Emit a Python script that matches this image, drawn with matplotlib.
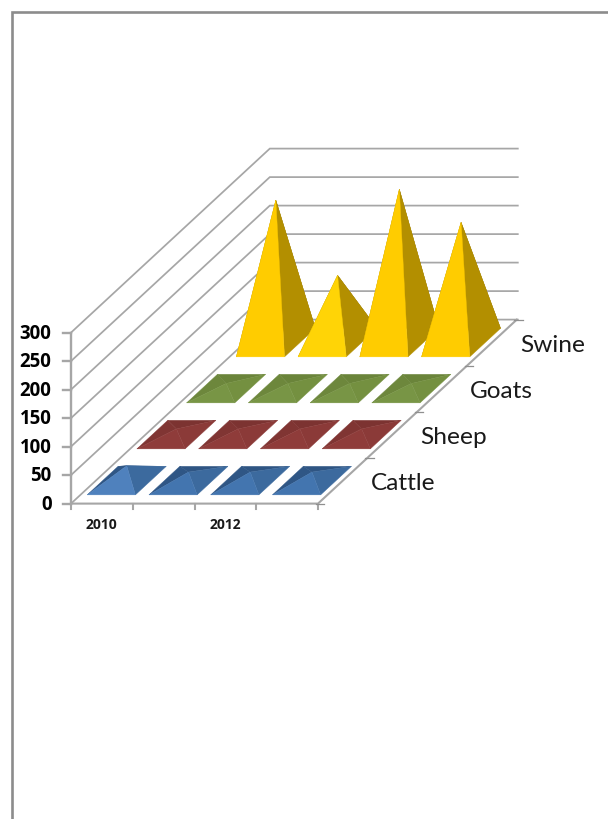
import matplotlib
matplotlib.use("Agg")
import matplotlib.pyplot as plt
from matplotlib.patches import Polygon

# Head counts per series and year
years = ["2010", "2011", "2012", "2013"]
series = ["Cattle", "Sheep", "Goats", "Swine"]
cattle = [26, 15, 15, 15]
sheep = [10, 10, 10, 10]
goats = [9, 9, 9, 9]
swine = [250, 118, 269, 211]
value_ticks = [0, 50, 100, 150, 200, 250, 300]

series_values = [cattle, sheep, goats, swine]

# Face colours per series: front, right, back, left
face_colors = {
    "Cattle": ("#4375AF", "#3C6A9E", "#2F5583", "#2F5685"),
    "Sheep": ("#8F3C3A", "#8B3A38", "#7C3331", "#803533"),
    "Goats": ("#789545", "#749040", "#6A843A", "#6D873C"),
    "Swine": ("#FFCC00", "#B38F00", "#8F7200", "#B38F00"),
}
# The lit pyramids in each row have their own front shade
front_overrides = {("Cattle", 0): "#4F81BD", ("Swine", 1): "#FFD406"}

GRID = "#A6A6A6"
WIDTH, HEIGHT = 608, 819

# Oblique projection of (category, series depth, value) onto the page
ORIGIN_X, ORIGIN_Y = 71.0, 503.6
CAT_DX = 61.75
DEPTH_DX, DEPTH_DY = 49.7, -46.0
VALUE_DY = -171.0 / 300.0
BAR_WIDTH = 0.78
BAR_DEPTH = 0.62


def project(cat, depth, value=0.0):
    return (
        ORIGIN_X + cat * CAT_DX + depth * DEPTH_DX,
        ORIGIN_Y + depth * DEPTH_DY + value * VALUE_DY,
    )


fig = plt.figure(figsize=(WIDTH / 100, HEIGHT / 100), dpi=100)
ax = fig.add_axes([0, 0, 1, 1])
ax.set_xlim(0, WIDTH)
ax.set_ylim(HEIGHT, 0)
ax.axis("off")

# Outer page frame, open on the right and bottom
ax.plot([11.5, 11.5, WIDTH], [HEIGHT, 11.5, 11.5], color="#8C8C8C", lw=1.9,
        solid_joinstyle="miter", solid_capstyle="butt")

n_cat = len(years)
n_depth = len(series)

# Side wall and back wall gridlines
for v in value_ticks:
    pts = [project(0, 0, v), project(0, n_depth, v), project(n_cat, n_depth, v)]
    pts[-1] = (pts[-1][0] + 1, pts[-1][1])
    ax.plot(*zip(*pts), color=GRID, lw=1.25, solid_joinstyle="miter", zorder=1)

# Floor edges
floor = [project(0, 0), project(n_cat, 0), project(n_cat, n_depth)]
ax.plot(*zip(*floor), color=GRID, lw=1.5, solid_joinstyle="miter", zorder=1)

# Value axis with ticks and labels
ax.plot(*zip(project(0, 0, 0), project(0, 0, value_ticks[-1])), color=GRID, lw=1.7, zorder=1)
for v in value_ticks:
    x, y = project(0, 0, v)
    ax.plot([x - 8, x], [y, y], color=GRID, lw=1.7, zorder=1)
    ax.text(x - 19.5, y + 1, str(v), ha="right", va="center", fontsize=13.4,
            fontweight="bold", family="Open Sans", color="#000000")

# Category axis ticks; every other year is labelled
for i in range(n_cat + 1):
    x, y = project(i, 0)
    ax.plot([x, x], [y, y + 5], color=GRID, lw=1.5, zorder=1)
for i, year in enumerate(years):
    if i % 2 == 0:
        x, y = project(i + 0.5, 0)
        ax.text(x, y + 21, year, ha="center", va="center", fontsize=10,
                fontweight="bold", family="Open Sans", color="#1A1A1A")

# Depth axis ticks and series names
for d in range(n_depth + 1):
    x, y = project(n_cat, d)
    ax.plot([x - 2.5, x + 6], [y, y], color="#8F8F8F", lw=0.9, zorder=1)
for d, name in enumerate(series):
    x, y = project(n_cat, d + 0.5)
    ax.text(x + 28, y + 3, name, ha="left", va="center", fontsize=17.6,
            family="Lato", color="#1A1A1A")

# Pyramids, painted from the back row forwards and left to right
for d in reversed(range(n_depth)):
    front, right, back, left = face_colors[series[d]]
    for c in range(n_cat):
        value = series_values[d][c]
        gap_x = (1 - BAR_WIDTH) / 2
        gap_d = (1 - BAR_DEPTH) / 2
        fl = project(c + gap_x, d + gap_d)
        fr = project(c + 1 - gap_x, d + gap_d)
        br = project(c + 1 - gap_x, d + 1 - gap_d)
        bl = project(c + gap_x, d + 1 - gap_d)
        apex = project(c + 0.5, d + 0.5, value)
        z = 2 + (n_depth - d) * 10 + c
        front_col = front_overrides.get((series[d], c), front)
        for pts, col in (((bl, br, apex), back), ((fl, bl, apex), left),
                         ((fr, br, apex), right), ((fl, fr, apex), front_col)):
            ax.add_patch(Polygon(pts, closed=True, facecolor=col, edgecolor=col,
                                 lw=0.3, zorder=z))

fig.savefig("out.png", dpi=100, facecolor="white")
